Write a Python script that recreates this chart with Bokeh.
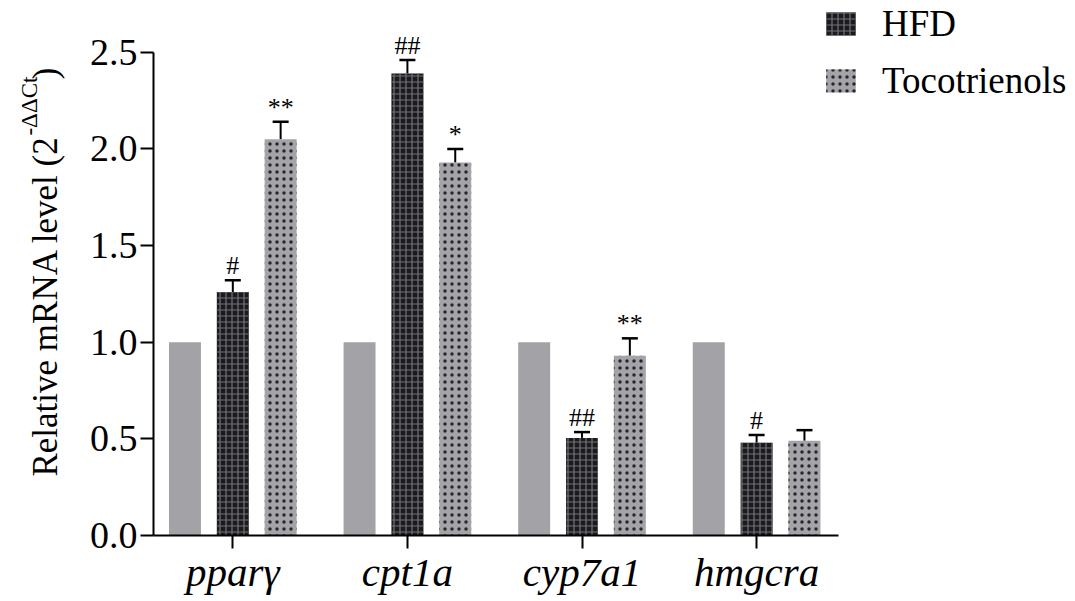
import numpy as np
from math import pi
from bokeh.plotting import figure
from bokeh.models import (ColumnDataSource, Whisker, TeeHead, LabelSet, Label,
                          Legend, LegendItem, FixedTicker, PrintfTickFormatter, Range1d)
from bokeh.core.properties import value
from bokeh.embed import file_html
from bokeh.resources import INLINE

# ---------------- data ----------------
genes = ["pparγ", "cpt1a", "cyp7a1", "hmgcra"]
control = [1.0, 1.0, 1.0, 1.0]
hfd = [1.26, 2.39, 0.505, 0.48]
hfd_err = [0.06, 0.07, 0.03, 0.04]
toco = [2.05, 1.93, 0.93, 0.49]
toco_err = [0.09, 0.07, 0.09, 0.055]
hfd_marks = ["#", "##", "##", "#"]
toco_marks = ["**", "*", "**", ""]
y_ticks = [0.0, 0.5, 1.0, 1.5, 2.0, 2.5]
series_names = ["HFD", "Tocotrienols"]

FONT = "Liberation Serif"
W, H = 1075, 601

x = np.arange(len(genes))
bw = 0.183
off = 0.274
X_AXIS = (-0.454, 3.47)
Y_AXIS = (0.0, 2.5)

# frame covers the whole canvas; axes are drawn at fixed locations
p = figure(width=W, height=H, output_backend="svg", toolbar_location=None,
           x_range=Range1d(-1.3305, 4.8264), y_range=Range1d(-0.3414, 2.7677),
           min_border_left=0, min_border_right=0, min_border_top=0,
           min_border_bottom=0)
p.background_fill_color = "white"
p.border_fill_color = "white"
p.outline_line_color = None
p.xgrid.grid_line_color = None
p.ygrid.grid_line_color = None

src_c = ColumnDataSource(dict(x=x - off, top=control))
src_h = ColumnDataSource(dict(x=x, top=hfd, up=np.array(hfd) + np.array(hfd_err), mark=hfd_marks))
src_t = ColumnDataSource(dict(x=x + off, top=toco, up=np.array(toco) + np.array(toco_err), mark=toco_marks))

p.vbar(x="x", top="top", width=bw, source=src_c, fill_color="#a3a2a7", line_color=None)
r_h = p.vbar(x="x", top="top", width=bw, source=src_h, fill_color="#1b1b1f", line_color=None,
             hatch_pattern="cross", hatch_color="#727277", hatch_scale=6, hatch_weight=1.2)
r_t = p.vbar(x="x", top="top", width=bw, source=src_t, fill_color="#a4a3a8", line_color=None,
             hatch_pattern="dot", hatch_color="#26262b", hatch_scale=7, hatch_weight=1.4)

for src in (src_h, src_t):
    w = Whisker(source=src, base="x", upper="up", lower="top", dimension="height",
                line_color="black", line_width=2,
                upper_head=TeeHead(size=16, line_color="black", line_width=2.5),
                lower_head=None)
    p.add_layout(w)
    ls = LabelSet(x="x", y="up", text="mark", source=src, y_offset=6,
                  text_align="center", text_baseline="alphabetic",
                  text_font=value(FONT), text_font_size=value("26px"), text_color="black")
    p.add_layout(ls)

# axes
p.xaxis.fixed_location = Y_AXIS[0]
p.xaxis.bounds = X_AXIS
p.yaxis.fixed_location = X_AXIS[0]
p.yaxis.bounds = Y_AXIS
p.xaxis.ticker = FixedTicker(ticks=list(x))
p.xaxis.major_label_overrides = {int(i): g for i, g in zip(x, genes)}
p.yaxis.ticker = FixedTicker(ticks=y_ticks)
p.yaxis.formatter = PrintfTickFormatter(format="%.1f")
for ax in (p.xaxis, p.yaxis):
    ax.axis_line_width = 2
    ax.axis_line_color = "black"
    ax.major_tick_line_width = 2
    ax.major_tick_line_color = "black"
    ax.major_tick_out = 13
    ax.major_tick_in = 0
    ax.minor_tick_line_color = None
    ax.major_label_text_font = FONT
    ax.major_label_text_color = "black"
p.xaxis.major_label_text_font_size = "41px"
p.xaxis.major_label_text_font_style = "italic"
p.xaxis.major_label_standoff = 0
p.yaxis.major_label_text_font_size = "38px"
p.yaxis.major_label_standoff = 3

# y-axis title with superscript
p.add_layout(Label(x=-1.07, y=0.305, text="Relative mRNA level (2", angle=pi / 2,
                   text_font=FONT, text_font_size="35px", text_align="left",
                   text_baseline="alphabetic", text_color="black"))
p.add_layout(Label(x=-1.167, y=2.069, text="-ΔΔCt", angle=pi / 2,
                   text_font=FONT, text_font_size="23px", text_align="left",
                   text_baseline="alphabetic", text_color="black"))
p.add_layout(Label(x=-1.07, y=2.36, text=")", angle=pi / 2,
                   text_font=FONT, text_font_size="35px", text_align="left",
                   text_baseline="alphabetic", text_color="black"))

legend = Legend(items=[LegendItem(label=series_names[0], renderers=[r_h]),
                       LegendItem(label=series_names[1], renderers=[r_t])],
                location=(822, 499), padding=0, margin=0, spacing=14,
                glyph_width=37, glyph_height=29, label_standoff=23,
                label_text_font=FONT, label_text_font_size="37px",
                label_text_color="black",
                background_fill_alpha=0, border_line_color=None)
p.add_layout(legend)

open("out.html", "w").write(file_html(p, INLINE))
